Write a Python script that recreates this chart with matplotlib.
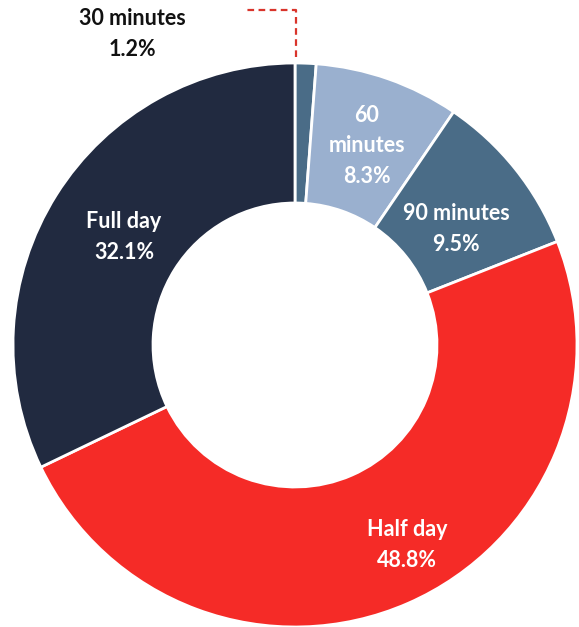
import matplotlib.pyplot as plt

labels = ["30 minutes", "60\nminutes", "90 minutes", "Half day", "Full day"]
shares = [1.2, 8.3, 9.5, 48.8, 32.1]
colors = ["#4a6c87", "#9ab0cf", "#4a6c87", "#f52b27", "#212a40"]

# label positions in pixels (x from left, y from top)
label_pos = [(132, 34), (367, 146), (456, 229), (407, 545), (124, 237)]
label_col = ["#111111", "white", "white", "white", "white"]

W, H = 579, 627
fig = plt.figure(figsize=(W / 100, H / 100), dpi=100)
ax = fig.add_axes([0, 0, 1, 1])
ax.set_xlim(0, W)
ax.set_ylim(0, H)
ax.set_aspect("equal")
ax.axis("off")

cx, cy, r = 295, H - 345, 282
ax.pie(shares, colors=colors, startangle=90, counterclock=False,
       center=(cx, cy), radius=r,
       wedgeprops=dict(width=r - 142, edgecolor="white", linewidth=2))
ax.set_xlim(0, W)
ax.set_ylim(0, H)

for lab, s, (x, y), c in zip(labels, shares, label_pos, label_col):
    ax.text(x, H - y, f"{lab}\n{s:.1f}%", ha="center", va="center",
            color=c, fontsize=15.5, fontweight="bold", family="Lato",
            linespacing=1.55)

# leader line for the small slice
ax.plot([296, 296, 243], [H - 57, H - 10, H - 10], color="#d9342b",
        lw=1.6, ls=(0, (3, 2)))

fig.savefig("out.png", dpi=100)
